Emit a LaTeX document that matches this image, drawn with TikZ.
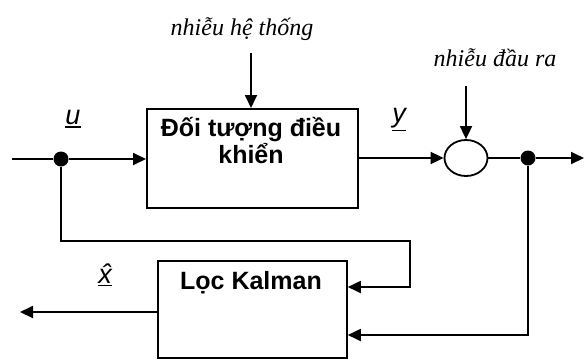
\documentclass[tikz,border=0pt]{standalone}
\usepackage{fontspec}
\setmainfont{Liberation Serif}
\setsansfont{Liberation Sans}
\usetikzlibrary{arrows.meta,shapes.geometric}
\newcommand{\ulbox}[1]{\vtop{\hbox{#1}\kern2pt\hrule height 1.3pt}}
\begin{document}
\begin{tikzpicture}[x=1pt,y=-1pt,line width=1.8pt,
  >={Triangle[length=13pt,width=12pt]},
  blockbox/.style={draw,rectangle,line width=1.8pt,inner sep=0pt,anchor=north west},
  blocktext/.style={font=\sffamily\bfseries\fontsize{25}{27}\selectfont,align=center,inner sep=0pt,anchor=base},
  noisetext/.style={font=\rmfamily\itshape\fontsize{24}{26}\selectfont,inner sep=0pt,anchor=base},
  sigtext/.style={font=\sffamily\itshape\fontsize{27}{29}\selectfont,inner sep=0pt,anchor=base},
  junction/.style={circle,fill=black,draw=none,minimum size=15pt,inner sep=0pt},
  sumnode/.style={ellipse,draw,line width=1.8pt,minimum width=43pt,minimum height=36pt,inner sep=0pt}]
\useasboundingbox (0,0) rectangle (584,360);
\fill[white] (0,0) rectangle (584,360);

% blocks
\node[blockbox,minimum width=211pt,minimum height=99pt] (plant) at (146,108) {};
\node[blocktext] (plantl1) at (251,136) {Đối tượng điều};
\node[blocktext] (plantl2) at (251,163) {khiển};
\node[blockbox,minimum width=189pt,minimum height=97pt] (kalman) at (157,260) {};
\node[blocktext] (kalmanl) at (251,289) {Lọc Kalman};

% points
\coordinate (in) at (12,159);
\node[junction] (ju) at (61,159) {};
\node[sumnode] (sum) at (466,158) {};
\node[junction] (jy) at (528,158) {};
\coordinate (out) at (584,158);
\coordinate (xhat) at (20,312);
\coordinate (w) at (251,53);
\coordinate (v) at (466,86);

% labels
\node[noisetext] (wl) at (242,35) {nhiễu hệ thống};
\node[noisetext] (vl) at (495,66) {nhiễu đầu ra};
\node[sigtext] (ul) at (73,124) {\ulbox{u}};
\node[sigtext] (yl) at (399,122) {\ulbox{y}};
\node[sigtext] (xl) at (105,283) {\ulbox{x̂}};

% connectors
\draw (in) -- (ju);
\draw[->] (ju) -- (plant.west |- ju);
\draw[->] (w) -- (plant.north -| w);
\draw[->] (plant.east |- sum) -- (sum.west);
\draw[->] (v) -- (sum.north);
\draw (sum.east) -- (jy);
\draw[->] (jy) -- (out);
\draw[->] (ju) -- (61,241) -- (410,241) -- (410,287) -- (kalman.east |- 0,287);
\draw[->] (jy) -- (528,335) -- (kalman.east |- 0,335);
\draw[->] (kalman.west |- xhat) -- (xhat);
\end{tikzpicture}
\end{document}
